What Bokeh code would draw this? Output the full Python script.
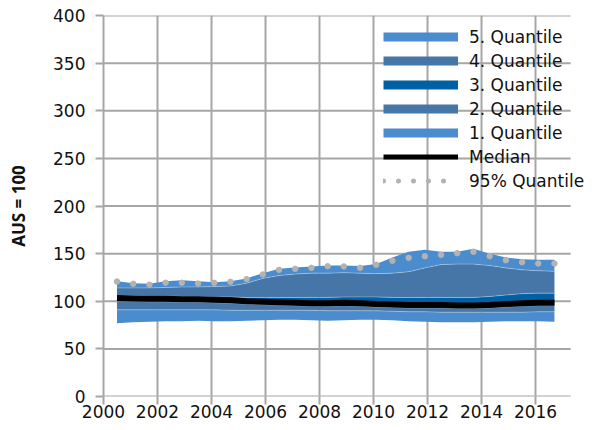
from bokeh.plotting import figure
from bokeh.models import Legend, LegendItem, FixedTicker, SingleIntervalTicker, Range1d
from bokeh.embed import file_html
from bokeh.resources import INLINE

# ---- data ----
years = [2000.5, 2001.1, 2001.7, 2002.3, 2002.9, 2003.5, 2004.1, 2004.7, 2005.3, 2005.9,
         2006.5, 2007.1, 2007.7, 2008.3, 2008.9, 2009.5, 2010.1, 2010.7, 2011.3, 2011.9,
         2012.5, 2013.1, 2013.7, 2014.3, 2014.9, 2015.5, 2016.1, 2016.7]
q_min = [77, 78, 78.5, 79, 79, 79.5, 79, 79, 79.5, 80, 80.5, 80.5, 80, 79.5, 80,
         80.5, 80.5, 80, 79, 78.5, 78, 78, 78, 78.5, 79, 79, 79, 78.5]
q20 = [91, 91, 91, 91, 91, 91, 91, 90.5, 90.5, 90.5, 90.5, 90.5, 90.5, 90, 90,
       90, 90, 89.5, 89, 89, 88.5, 88.5, 88.5, 88.5, 88.5, 88.5, 89, 89]
q40 = [100.5, 100, 99.5, 99.5, 99, 99, 98.5, 98, 97, 96.5, 96, 95.5, 95, 95, 95.5,
       95, 94, 93.5, 93, 93, 93, 92.5, 92.5, 93, 94, 95, 95.5, 95.5]
q60 = [106, 106, 105.5, 105.5, 105, 105, 104.5, 104.5, 104, 104, 104, 104, 104, 104,
       104.5, 104.5, 104.5, 104, 104, 104, 104, 104, 104, 105, 106.5, 108, 108.5, 108.5]
q80 = [114, 114, 114, 114.5, 115, 115, 115.5, 116, 119, 124, 127, 128.5, 129.5, 129.5,
       130, 129.5, 129, 129.5, 131, 135, 138.5, 139, 139, 137.5, 135, 133, 132, 131.5]
q_max = [121, 119, 118.5, 121, 122, 121, 120, 121, 124, 129.5, 134, 135.5, 136.5, 137.5,
         137.5, 137, 139, 146, 152, 154, 152, 152, 155, 150, 146, 144, 143.5, 143.5]
median = [103.5, 103, 102.5, 102.5, 102, 102, 101.5, 101, 100, 99.5, 99, 98.5, 98, 98,
          98.5, 98, 97, 96.5, 96, 96, 96, 95.5, 95.5, 96, 97, 98, 98.5, 98.5]
p95 = [120.7, 118.3, 117.3, 119.4, 119.4, 118.6, 119.4, 120.4, 123.2, 128.1, 133, 134,
       135.1, 136.8, 136.5, 135.1, 138.3, 142.5, 145.6, 147.3, 148.8, 150.5, 151.9,
       147.3, 143.1, 141, 139.6, 139.6]

x_ticks = [2000, 2002, 2004, 2006, 2008, 2010, 2012, 2014, 2016]
y_ticks = [0, 50, 100, 150, 200, 250, 300, 350, 400]
labels = ["5. Quantile", "4. Quantile", "3. Quantile", "2. Quantile", "1. Quantile",
          "Median", "95% Quantile"]

X_START, X_AXIS_END, X_VIEW_END = 2000, 2017.3, 2018.22

LIGHT = "#4a8ccd"
STEEL = "#4676a8"
DARK = "#0060a4"
GRID = "#a6a6a6"
DOT = "#b3b3b3"
FONT = "DejaVu Sans"

p = figure(width=595, height=430, output_backend="svg", toolbar_location=None,
           x_range=Range1d(X_START, X_VIEW_END), y_range=Range1d(0, 400),
           min_border_left=103, min_border_right=0, min_border_top=15,
           min_border_bottom=34)
p.outline_line_color = None

# horizontal grid lines / x axis line limited to the plotted x extent
n = len(y_ticks)
p.segment(x0=[X_START] * n, y0=y_ticks, x1=[X_AXIS_END] * n, y1=y_ticks,
          line_color=GRID, line_width=2, level="underlay")

bands = [(q_min, q20, LIGHT), (q20, q40, STEEL), (q40, q60, DARK),
         (q60, q80, STEEL), (q80, q_max, LIGHT)]
for lo, hi, c in bands:
    p.varea(x=years, y1=lo, y2=hi, fill_color=c, fill_alpha=1)
for b in (q20, q40, q60, q80):
    p.line(years, b, line_color="white", line_alpha=0.3, line_width=1)

p.line(years, median, line_color="black", line_width=6)
p.scatter(years, p95, size=5.5, color=DOT)

# legend entries (single point -> nothing drawn in the plot)
def dummy(**kw):
    return p.line([1990], [-100], **kw)

r5 = dummy(line_color=LIGHT, line_width=9)
r4 = dummy(line_color=STEEL, line_width=9)
r3 = dummy(line_color=DARK, line_width=9)
r2 = dummy(line_color=STEEL, line_width=9)
r1 = dummy(line_color=LIGHT, line_width=9)
rm = dummy(line_color="black", line_width=5)
rd = dummy(line_color=DOT, line_width=5, line_dash="0 15", line_cap="round")

legend = Legend(items=[LegendItem(label=l, renderers=[r]) for l, r in
                       zip(labels, [r5, r4, r3, r2, r1, rm, rd])],
                location=(280, 204), padding=0, margin=0, spacing=1,
                glyph_width=75, glyph_height=23, label_height=23, label_standoff=11,
                background_fill_alpha=0, border_line_alpha=0,
                label_text_font=FONT, label_text_font_size="17px",
                label_text_color="#111111")
p.add_layout(legend)

p.xaxis.ticker = FixedTicker(ticks=x_ticks)
p.yaxis.ticker = SingleIntervalTicker(interval=50)
p.xgrid.ticker = p.xaxis.ticker
p.xgrid.grid_line_color = GRID
p.xgrid.grid_line_width = 2
p.ygrid.visible = False

for ax in (p.xaxis, p.yaxis):
    ax.axis_line_color = GRID
    ax.axis_line_width = 2
    ax.major_tick_line_color = GRID
    ax.major_tick_line_width = 2
    ax.major_tick_out = 8
    ax.major_tick_in = 0
    ax.minor_tick_out = 0
    ax.minor_tick_in = 0
    ax.major_label_text_font = FONT
    ax.major_label_text_font_size = "17px"
    ax.major_label_text_color = "#111111"
p.xaxis.axis_line_color = None

p.xaxis.major_label_standoff = 0
p.yaxis.major_label_standoff = 10
p.yaxis.axis_label = "AUS = 100"
p.yaxis.axis_label_text_font = "Open Sans"
p.yaxis.axis_label_text_font_style = "bold"
p.yaxis.axis_label_text_font_size = "17px"
p.yaxis.axis_label_text_color = "#111111"
p.yaxis.axis_label_standoff = 20

open("out.html", "w").write(file_html(p, INLINE))
